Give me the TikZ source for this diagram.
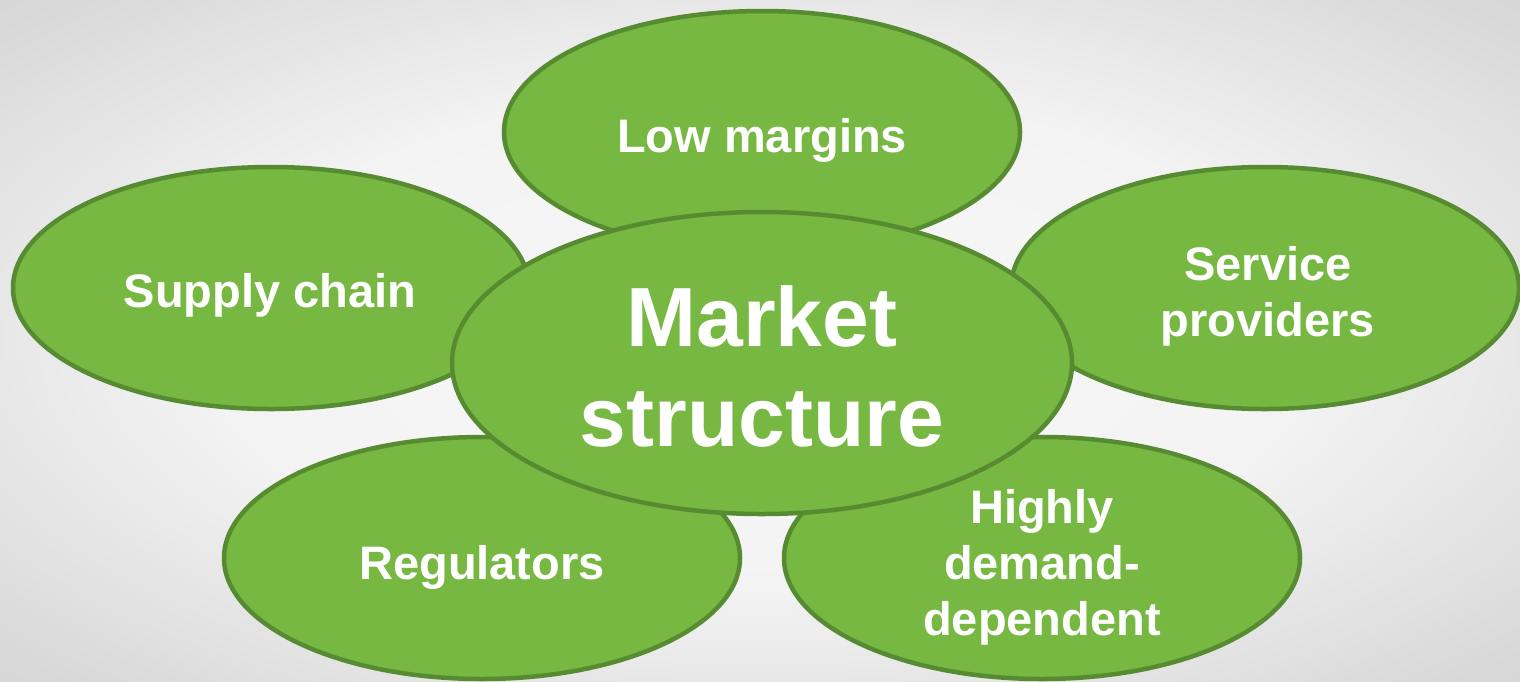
\documentclass[tikz,border=0pt]{standalone}
\usepackage{fontspec}
\setmainfont{Liberation Sans}
\usetikzlibrary{shapes.geometric}
\definecolor{leaf}{HTML}{77B843}
\definecolor{leafline}{HTML}{578B31}
\definecolor{bgin}{HTML}{F8F8F8}
\definecolor{bgmid}{HTML}{D8D8D8}
\definecolor{bgout}{HTML}{CCCCCC}
\pgfdeclareradialshading{bgshade}{\pgfpoint{0bp}{0bp}}{color(0bp)=(bgin); color(18bp)=(bgin!85!bgmid); color(34bp)=(bgmid); color(50bp)=(bgout)}
\begin{document}
\begin{tikzpicture}[x=1pt,y=-1pt,
  petal/.style={ellipse, draw=leafline, line width=4.5pt, fill=leaf, inner sep=0pt,
    minimum width=516pt, minimum height=242pt},
  hub/.style={petal, minimum width=620pt, minimum height=302pt},
  ptext/.style={text=white, font=\bfseries\fontsize{47}{56}\selectfont, align=center, inner sep=0pt},
  htext/.style={text=white, font=\bfseries\fontsize{84}{100}\selectfont, align=center, inner sep=0pt}
]
\shade[shading=bgshade] (0,0) rectangle (1520,681);
\useasboundingbox (0,0) rectangle (1520,681);

\node[petal] (low) at (762,132) {};
\node[petal] (sup) at (271,288) {};
\node[petal, minimum width=508pt] (ser) at (1265,288) {};
\node[petal] (reg) at (482,558) {};
\node[petal] (hig) at (1042,558) {};
\node[hub] (mkt) at (762,363) {};

\node[ptext] (lowt) at (762,140) {Low margins};
\node[ptext] (supt) at (270,295) {Supply chain};
\node[ptext] (sert) at (1268,296) {Service\\providers};
\node[ptext] (regt) at (482,567) {Regulators};
\node[ptext] (higt) at (1042,567) {Highly\\demand-\\dependent};
\node[htext] (mktt) at (762,366) {Market\\structure};
\end{tikzpicture}
\end{document}
